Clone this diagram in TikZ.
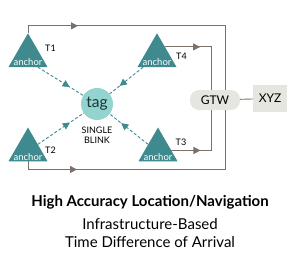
\documentclass[tikz,border=0pt]{standalone}
\usepackage{fontspec}
\setmainfont{Lato}
\usetikzlibrary{positioning, shapes.geometric, arrows.meta, calc, decorations.markings}

\definecolor{anchorteal}{HTML}{3E8A8F}
\definecolor{tagfill}{HTML}{93D3D0}
\definecolor{tagtext}{HTML}{1E3536}
\definecolor{wirebrown}{HTML}{7B706A}
\definecolor{boxgray}{HTML}{E6E6E0}

\tikzset{
  anchornode/.style={
    regular polygon, regular polygon sides=3, fill=anchorteal,
    minimum size=45pt, inner sep=0pt
  },
  anchortxt/.style={text=white, font=\fontsize{9.5}{10}\selectfont, inner sep=1pt},
  tlabel/.style={font=\fontsize{9}{10}\selectfont, inner sep=0pt},
  tagnode/.style={circle, fill=tagfill, minimum size=32pt, inner sep=0pt,
    text=tagtext, font=\fontsize{15.5}{16}\selectfont},
  gwbox/.style={fill=boxgray, rounded corners=9pt, minimum width=50pt,
    minimum height=20pt, inner sep=0pt, font=\fontsize{12}{12}\selectfont},
  sinkbox/.style={fill=boxgray, minimum width=34pt, minimum height=27pt,
    inner sep=0pt, font=\fontsize{12}{12}\selectfont},
  wire/.style={color=wirebrown, line width=0.9pt},
  blinkline/.style={color=anchorteal, line width=0.9pt, dash pattern=on 3pt off 2pt},
  midtip/.style={postaction={decorate}, decoration={markings,
    mark=at position #1 with {\arrow{Triangle[length=7pt,width=7pt]}}}},
  caption/.style={anchor=base, font=\fontsize{15}{16}\selectfont}
}

\begin{document}
\begin{tikzpicture}[x=1pt, y=-1pt]
\useasboundingbox (0,0) rectangle (300,274);

%% anchors
\node[anchornode] (t1) at (28,55.75) {};
\node[anchornode] (t4) at (157,55.75) {};
\node[anchornode] (t2) at (28,150) {};
\node[anchornode] (t3) at (158,150) {};
\foreach \t in {t1,t2,t3,t4}
  \node[anchortxt, above=0pt of \t.side 2] {anchor};

\node[tlabel] (t1lbl) at (50.5,48.5) {T1};
\node[tlabel] (t4lbl) at (181.5,56) {T4};
\node[tlabel] (t2lbl) at (50.5,150.5) {T2};
\node[tlabel] (t3lbl) at (181,142) {T3};

%% tag
\node[tagnode] (tag) at (97,104) {tag};
\node[font=\fontsize{9}{10}\selectfont, align=center, below=3pt of tag] (blink) {SINGLE\\BLINK};

%% gateway
\node[gwbox] (gtw) at (215,100) {GTW};
\node[sinkbox] (xyz) at (270,98.5) {XYZ};
\draw[wire] (gtw) -- (xyz);

%% backhaul wiring
\draw[wire, midtip=57pt] (t1.corner 1) -- ++(0,-7) -| ($(gtw.north)+(10,0)$);
\draw[wire, midtip=35pt] ($(t4.corner 1)!0.41!(t4.corner 3)$) -| ($(gtw.north)+(-4,0)$);
\draw[wire, midtip=29pt] ($(t3.corner 1)!0.68!(t3.corner 3)$) -| ($(gtw.south)+(-4,0)$);
\draw[wire, midtip=57pt] (t2.side 2) -- ++(0,8) -| ($(gtw.south)+(10,0)$);

%% blink
\draw[blinkline, midtip=0.7] ($(t1.side 2)!0.5!(t1.corner 3)$) -- (tag);
\draw[blinkline, midtip=0.7] ($(t4.side 2)!0.7!(t4.corner 2)$) -- (tag);
\draw[blinkline, midtip=0.7] (t2.side 3) -- (tag);
\draw[blinkline, midtip=0.7] (t3.side 1) -- (tag);

%% caption
\node[caption, font=\bfseries\fontsize{15}{16}\selectfont] (title) at (150,206) {High Accuracy Location/Navigation};
\node[caption] (sub1) at (150,229.5) {Infrastructure-Based};
\node[caption] (sub2) at (150,247.5) {Time Difference of Arrival};
\end{tikzpicture}
\end{document}
